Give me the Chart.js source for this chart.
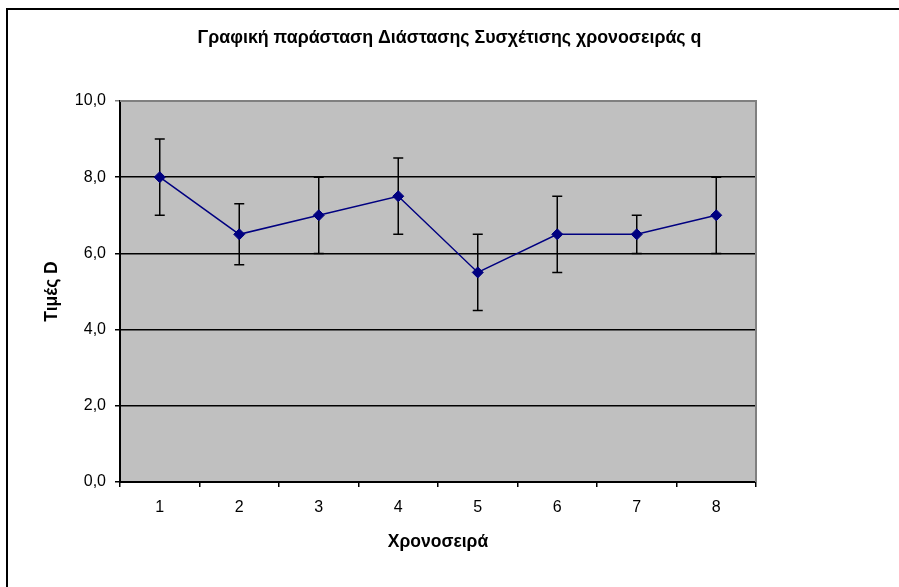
<!DOCTYPE html>
<html>
<head>
<meta charset="utf-8">
<script src="https://cdn.jsdelivr.net/npm/chart.js@4"></script>
<style>
  html, body { margin: 0; padding: 0; background: #fff; }
  #wrap { width: 899px; height: 587px; }
</style>
</head>
<body>
<div id="wrap"><canvas id="c" width="899" height="587"></canvas></div>
<script>
const categories = ['1', '2', '3', '4', '5', '6', '7', '8'];
const values = [8.0, 6.5, 7.0, 7.5, 5.5, 6.5, 6.5, 7.0];
const errPlus = [1.0, 0.8, 1.0, 1.0, 1.0, 1.0, 0.5, 1.0];
const errMinus = [1.0, 0.8, 1.0, 1.0, 1.0, 1.0, 0.5, 1.0];
const yTickValues = [0, 2, 4, 6, 8, 10];

const FONT = '"Liberation Sans", Arial, sans-serif';

const frame = {
  id: 'frame',
  beforeDraw(chart) {
    const { ctx, chartArea: a } = chart;
    ctx.save();
    ctx.fillStyle = '#ffffff';
    ctx.fillRect(0, 0, chart.width, chart.height);
    ctx.fillStyle = '#c0c0c0';
    ctx.fillRect(a.left, a.top, a.right - a.left, a.bottom - a.top);
    ctx.strokeStyle = '#000000';
    ctx.lineWidth = 2;
    ctx.strokeRect(7, 9, 1000, 1000);
    ctx.restore();
  },
  afterDatasetsDraw(chart) {
    const { ctx, chartArea: a } = chart;
    ctx.save();
    ctx.strokeStyle = '#808080';
    ctx.lineWidth = 2;
    ctx.beginPath();
    ctx.moveTo(a.left, a.top);
    ctx.lineTo(a.right, a.top);
    ctx.lineTo(a.right, a.bottom);
    ctx.stroke();
    ctx.restore();
  }
};

const errorBars = {
  id: 'errorBars',
  beforeDatasetsDraw(chart) {
    const { ctx } = chart;
    const meta = chart.getDatasetMeta(0);
    const ys = chart.scales.y;
    ctx.save();
    ctx.strokeStyle = '#000000';
    ctx.lineWidth = 1.5;
    meta.data.forEach((pt, i) => {
      const x = pt.x;
      const yTop = ys.getPixelForValue(values[i] + errPlus[i]);
      const yBot = ys.getPixelForValue(values[i] - errMinus[i]);
      ctx.beginPath();
      ctx.moveTo(x, yTop); ctx.lineTo(x, yBot);
      ctx.moveTo(x - 5, yTop); ctx.lineTo(x + 5, yTop);
      ctx.moveTo(x - 5, yBot); ctx.lineTo(x + 5, yBot);
      ctx.stroke();
    });
    ctx.restore();
  }
};

new Chart(document.getElementById('c'), {
  type: 'line',
  data: {
    labels: categories,
    datasets: [{
      data: values,
      borderColor: '#000080',
      backgroundColor: '#000080',
      borderWidth: 1.5,
      pointStyle: 'rectRot',
      pointRadius: 5.5,
      pointBorderWidth: 1,
      pointBackgroundColor: '#000080',
      pointBorderColor: '#000080',
      tension: 0,
      fill: false
    }]
  },
  options: {
    responsive: false,
    animation: false,
    devicePixelRatio: 1,
    layout: { padding: { left: 0, right: 0, top: 0, bottom: 0 } },
    plugins: {
      legend: { display: false },
      tooltip: { enabled: false },
      title: {
        display: true,
        text: 'Γραφική παράσταση Διάστασης Συσχέτισης χρονοσειράς q',
        color: '#000000',
        font: { family: FONT, size: 17.8, weight: 'bold' },
        padding: { top: 27, bottom: 52.6 }
      }
    },
    scales: {
      x: {
        type: 'category',
        offset: true,
        grid: {
          offset: true,
          drawOnChartArea: false,
          drawTicks: true,
          tickLength: 5,
          color: '#000000',
          lineWidth: 1.5
        },
        border: { display: true, color: '#000000', width: 2 },
        ticks: {
          color: '#000000',
          font: { family: FONT, size: 16 },
          padding: 11,
          maxRotation: 0
        },
        title: {
          display: true,
          text: 'Χρονοσειρά',
          color: '#000000',
          font: { family: FONT, size: 17.5, weight: 'bold' },
          padding: { top: 0, bottom: 34.5 }
        },
        afterFit(scale) { scale.height = 105; }
      },
      y: {
        min: 0,
        max: 10,
        afterBuildTicks(scale) { scale.ticks = yTickValues.map(v => ({ value: v })); },
        grid: {
          drawTicks: true,
          tickLength: 5,
          color: (c) => (c.tick && c.tick.value === 10 ? '#808080' : '#000000'),
          lineWidth: 1.5
        },
        border: { display: true, color: '#000000', width: 2 },
        ticks: {
          color: '#000000',
          font: { family: FONT, size: 16 },
          padding: 9,
          callback: (v) => Number(v).toFixed(1).replace('.', ',')
        },
        title: {
          display: true,
          text: 'Τιμές D',
          color: '#000000',
          font: { family: FONT, size: 17.5, weight: 'bold' },
          padding: { top: 41.5, bottom: 0 }
        },
        afterFit(scale) { scale.width = 120; }
      },
      spacer: {
        type: 'linear',
        position: 'right',
        display: true,
        grid: { display: false, drawTicks: false },
        border: { display: false },
        ticks: { display: false },
        afterFit(scale) { scale.width = 143; }
      }
    }
  },
  plugins: [frame, errorBars]
});
</script>
</body>
</html>
